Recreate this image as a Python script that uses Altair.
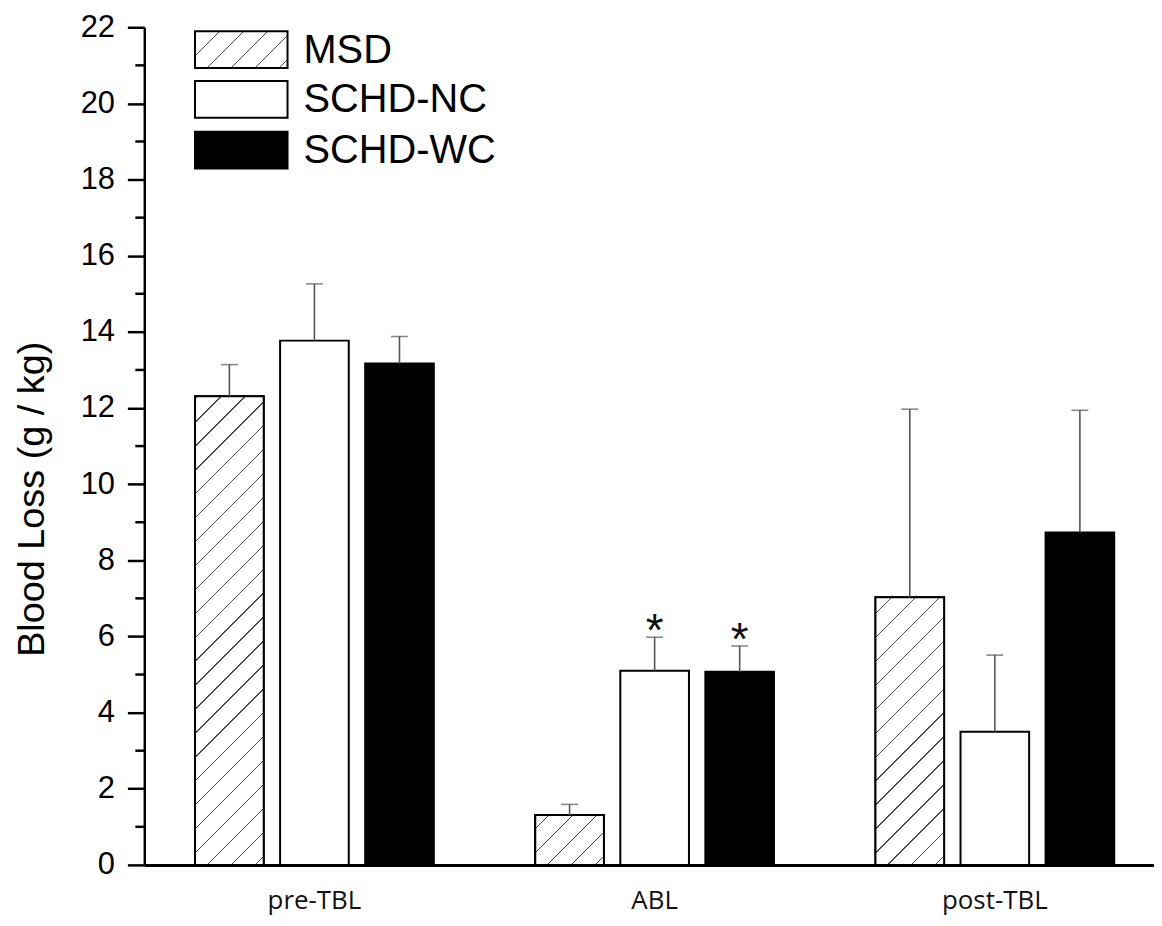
import math
import altair as alt
import pandas as pd

# ---------------- data ----------------
GROUPS = ["pre-TBL", "ABL", "post-TBL"]
SERIES = ["MSD", "SCHD-NC", "SCHD-WC"]

MSD_MEAN = [12.31, 1.31, 7.03]
NC_MEAN = [13.77, 5.10, 3.50]
WC_MEAN = [13.17, 5.07, 8.73]

MSD_ERR = [0.83, 0.28, 4.94]
NC_ERR = [1.49, 0.88, 2.01]
WC_ERR = [0.71, 0.68, 3.21]

MSD_STAR = ["", "", ""]
NC_STAR = ["", "*", ""]
WC_STAR = ["", "*", ""]

Y_TICKS = [0, 2, 4, 6, 8, 10, 12, 14, 16, 18, 20, 22]
Y_MINOR = [1, 3, 5, 7, 9, 11, 13, 15, 17, 19, 21]
Y_TITLE = "Blood Loss (g / kg)"

# ---------------- layout / style ----------------
W, H = 1015, 842
YMAX = 22
PI_X, PO_X, ALIGN_X = 0.25, 0.109, 0.574
PI_O, PO_O = 0.193, 0.0965
FILLS = {"MSD": "white", "SCHD-NC": "white", "SCHD-WC": "black"}

step_x = W / (len(GROUPS) - PI_X + 2 * PO_X)
band_x = step_x * (1 - PI_X)
step_o = band_x / (len(SERIES) - PI_O + 2 * PO_O)
BAR_W = step_o * (1 - PI_O)
PX_PER_UNIT = H / YMAX


def hatch(w, h, spacing=17.0, lw=1.0, color="#4a4a4a", angle=45.0):
    """Diagonal '/' hatch as a hard-stop linear gradient in bbox units."""
    th = math.radians(angle)
    s, c = math.sin(th), math.cos(th)
    D = w * s + h * c
    a, b = s / h, c / w
    k = D / (w * h * (a * a + b * b))
    stops = [alt.GradientStop(offset=0, color="white")]
    d0 = h * c - spacing / 2
    j = -int(d0 // spacing) - 1
    last = 0.0
    while True:
        d = d0 + j * spacing
        j += 1
        if d - lw / 2 > D:
            break
        t0 = max(0.0, (d - lw / 2) / D)
        t1 = min(1.0, (d + lw / 2) / D)
        if t1 <= 0 or t0 >= 1 or t0 < last:
            continue
        stops += [
            alt.GradientStop(offset=t0, color="white"),
            alt.GradientStop(offset=t0, color=color),
            alt.GradientStop(offset=t1, color=color),
            alt.GradientStop(offset=t1, color="white"),
        ]
        last = t1
    stops.append(alt.GradientStop(offset=1, color="white"))
    return alt.LinearGradient(gradient="linear", stops=stops, x1=0, y1=0, x2=k * a, y2=k * b)


rows = []
for series, means, errs, stars in [
    ("MSD", MSD_MEAN, MSD_ERR, MSD_STAR),
    ("SCHD-NC", NC_MEAN, NC_ERR, NC_STAR),
    ("SCHD-WC", WC_MEAN, WC_ERR, WC_STAR),
]:
    for g, m, e, st in zip(GROUPS, means, errs, stars):
        rows.append({"group": g, "series": series, "value": m, "upper": m + e, "star": st})
df = pd.DataFrame(rows)

xscale = alt.Scale(domain=GROUPS, paddingInner=PI_X, paddingOuter=PO_X, align=ALIGN_X)
oscale = alt.Scale(domain=SERIES, paddingInner=PI_O, paddingOuter=PO_O)
yscale = alt.Scale(domain=[0, YMAX], nice=False, zero=True)

xaxis = alt.Axis(
    title=None, ticks=False, tickSize=0, labelAngle=0, labelFont="Open Sans",
    labelFontSize=26, labelColor="#111", labelPadding=23, domainColor="black",
    domainWidth=3, grid=False,
)
yaxis = alt.Axis(
    title=Y_TITLE, values=Y_TICKS, tickSize=17, tickWidth=2.5, tickColor="black",
    domainColor="black", domainWidth=2.5, labelFont="Liberation Sans", labelFontSize=31,
    labelColor="black", labelPadding=13, grid=False, titleFont="Liberation Sans",
    titleFontSize=38, titleFontWeight="normal", titleColor="black", titleX=-101,
    titleY=474, titleBaseline="alphabetic", titleAngle=270, titleAlign="center",
)

X = alt.X("group:N", sort=GROUPS, scale=xscale, axis=xaxis)
XO = alt.XOffset("series:N", sort=SERIES, scale=oscale)

bars = alt.Chart(df).mark_bar(stroke="black", strokeWidth=2).encode(
    x=X, xOffset=XO,
    y=alt.Y("value:Q", scale=yscale, axis=yaxis),
    fill=alt.Fill("series:N", scale=alt.Scale(domain=SERIES, range=[FILLS[s] for s in SERIES]), legend=None),
)

hatch_layers = []
for g, m in zip(GROUPS, MSD_MEAN):
    sub = df[(df.series == "MSD") & (df.group == g)]
    hatch_layers.append(
        alt.Chart(sub).mark_bar(stroke="black", strokeWidth=2, fill=hatch(BAR_W, m * PX_PER_UNIT)).encode(
            x=X, xOffset=XO, y=alt.Y("value:Q", scale=yscale, axis=yaxis)
        )
    )

err = alt.Chart(df).mark_rule(color="#555", strokeWidth=1.6).encode(
    x=X, xOffset=XO, y=alt.Y("value:Q", scale=yscale, axis=yaxis), y2="upper:Q"
)
caps = alt.Chart(df).mark_tick(color="#555", thickness=1.6, size=17).encode(
    x=X, xOffset=XO, y=alt.Y("upper:Q", scale=yscale, axis=yaxis)
)
stars = alt.Chart(df).mark_text(
    fontSize=46, font="Liberation Sans", baseline="alphabetic", dy=9, color="#111"
).encode(x=X, xOffset=XO, y=alt.Y("upper:Q", scale=yscale, axis=yaxis), text="star:N")

minor = alt.Chart(pd.DataFrame({"v": Y_MINOR})).mark_rule(color="black", strokeWidth=2.5).encode(
    y=alt.Y("v:Q", scale=yscale, axis=yaxis), x=alt.value(-9), x2=alt.value(0)
)

# legend (drawn inside the plot, as in the original)
LEG_X0, LEG_X1 = 51, 144
LEG_TOPS = [4, 54, 105]
LEG_H = 37
legend_layers = []
for s, top in zip(SERIES, LEG_TOPS):
    fill = hatch(LEG_X1 - LEG_X0, LEG_H) if s == "MSD" else FILLS[s]
    one = pd.DataFrame({"series": [s]})
    legend_layers.append(
        alt.Chart(one).mark_rect(fill=fill, stroke="black", strokeWidth=2).encode(
            x=alt.value(LEG_X0), x2=alt.value(LEG_X1), y=alt.value(top), y2=alt.value(top + LEG_H)
        )
    )
    legend_layers.append(
        alt.Chart(one).mark_text(
            align="left", baseline="middle", fontSize=40, font="Liberation Sans", color="black"
        ).encode(x=alt.value(160), y=alt.value(top + LEG_H / 2 + 1), text="series:N")
    )

chart = alt.layer(bars, *hatch_layers, err, caps, stars, minor, *legend_layers).properties(
    width=W, height=H,
    padding={"left": 137, "top": 17, "right": 0, "bottom": 51},
    autosize=alt.AutoSizeParams(type="none"),
    background="white",
).configure_view(strokeWidth=0)

chart.save("out.html", embed_options={"renderer": "svg", "actions": False})
